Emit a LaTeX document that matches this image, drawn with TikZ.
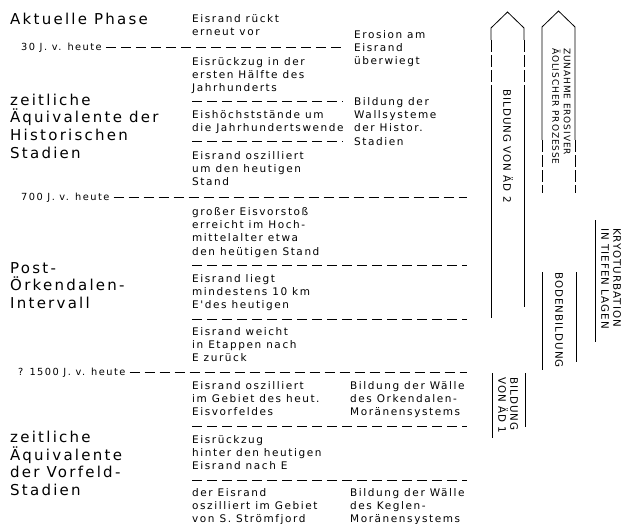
\documentclass[tikz,border=0pt]{standalone}
\usepackage{fontspec}
\newfontfamily\plotfont[LetterSpace=15]{DejaVu Sans}
\newfontfamily\capsfont[LetterSpace=10]{DejaVu Sans}

\tikzset{
  phase/.style={font=\plotfont\fontsize{15}{17.6}\selectfont, align=left, anchor=north west, inner sep=0pt},
  event/.style={font=\plotfont\fontsize{10.5}{13.3}\selectfont, align=left, anchor=north west, inner sep=0pt},
  age/.style={font=\plotfont\fontsize{9.8}{12}\selectfont, anchor=base west, inner sep=0pt},
  sep/.style={line width=0.8pt, dash pattern=on 10pt off 5pt},
  band/.style={line width=0.8pt},
  bandgap/.style={line width=0.8pt, dash pattern=on 12pt off 3pt},
  vlabel/.style={font=\capsfont\fontsize{10.3}{12}\selectfont, rotate=-90, align=left, inner sep=0pt}
}

\begin{document}
\begin{tikzpicture}[x=1pt, y=-1pt]
\useasboundingbox (0,0) rectangle (629,524);

        % Phases
        \node[phase] (phaseA) at (10,12.5) {Aktuelle Phase};
        \node[phase] (phaseH) at (10,93.8) {zeitliche\\Äquivalente der\\Historischen\\Stadien};
        \node[phase] (phaseP) at (10,262.2) {Post-\\Örkendalen-\\Intervall};
        \node[phase] (phaseV) at (10,430.8) {zeitliche\\Äquivalente\\der Vorfeld-\\Stadien};

        % Ages
        \node[age] (age30) at (21,50.5) {30 J. v. heute};
        \node[age] (age700) at (21,200.5) {700 J. v. heute};
        \node[age] (age1500) at (18,375.5) {? 1500 J. v. heute};
        \coordinate (end30) at (343,47);
        \coordinate (end700) at (467,197);
        \coordinate (end1500) at (467,372);
        \draw[sep] ([xshift=4pt]age30.east) -- (age30.east -| end30);
        \draw[sep] ([xshift=4pt]age700.east) -- (age700.east -| end700);
        \draw[sep] ([xshift=4pt]age1500.east) -- (age1500.east -| end1500);

        % Separators inside the phases
        \foreach \y/\xe [count=\i] in {101/343, 141/343, 265/467, 319/467, 426/467, 480/467} {
            \coordinate (sepL\i) at (192,\y);
            \coordinate (sepR\i) at (\xe,\y);
            \draw[sep] (sepL\i) -- (sepR\i);
        }

        % Ice margin
        \node[event] (ev1) at (192,14) {Eisrand rückt\\erneut vor};
        \node[event] (ev2) at (192,57) {Eisrückzug in der\\ersten Hälfte des\\Jahrhunderts};
        \node[event] (ev3) at (192,110) {Eishöchststände um\\die Jahrhundertswende};
        \node[event] (ev4) at (192,151) {Eisrand oszilliert\\um den heutigen\\Stand};
        \node[event] (ev5) at (192,207) {großer Eisvorstoß\\erreicht im Hoch-\\mittelalter etwa\\den heütigen Stand};
        \node[event] (ev6) at (192,274) {Eisrand liegt\\mindestens 10 km\\E'des heutigen};
        \node[event] (ev7) at (192,327) {Eisrand weicht\\in Etappen nach\\E zurück};
        \node[event] (ev8) at (192,381) {Eisrand oszilliert\\im Gebiet des heut.\\Eisvorfeldes};
        \node[event] (ev9) at (192,435) {Eisrückzug\\hinter den heutigen\\Eisrand nach E};
        \node[event] (ev10) at (192,488) {der Eisrand\\oszilliert im Gebiet\\von S. Strömfjord};

        % Forms
        \node[event] (res1) at (354,30) {Erosion am\\Eisrand\\überwiegt};
        \node[event] (res2) at (354,97) {Bildung der\\Wallsysteme\\der Histor.\\Stadien};
        \node[event] (res3) at (350,381) {Bildung der Wälle\\des Orkendalen-\\Moränensystems};
        \node[event] (res4) at (350,488) {Bildung der Wälle\\des Keglen-\\Moränensystems};

        % Processes
        \draw[band] (491,40) -- (491,28) -- (507.5,12) -- (524,28) -- (524,40);
        \draw[bandgap] (491,40) -- (491,95);
        \draw[bandgap] (524,40) -- (524,95);
        \draw[band] (491,95) -- (491,318);
        \draw[band] (524,95) -- (524,307);
        \node[vlabel] (ad2) at (508,146) {BILDUNG VON ÄD 2};

        \draw[band] (542,140) -- (542,27) -- (558.5,11) -- (575,27) -- (575,140);
        \draw[bandgap] (542,140) -- (542,193);
        \draw[bandgap] (575,140) -- (575,193);
        \node[vlabel, font=\capsfont\fontsize{9}{11.5}\selectfont, anchor=west] (aeol) at (561.5,48) {ZUNAHME EROSIVER\\ÄOLISCHER PROZESSE};

        \draw[band] (595,220) -- (595,342);
        \node[vlabel, anchor=west] (kryo) at (611,228) {KRYOTURBATION\\IN TIEFEN LAGEN};

        \draw[band] (542,272) -- (542,370);
        \draw[band] (576,272) -- (576,362);
        \node[vlabel] (boden) at (559,320) {BODENBILDUNG};

        \draw[band] (492,373) -- (492,438);
        \draw[band] (525,373) -- (525,427);
        \node[vlabel, anchor=west] (ad1) at (508,377) {BILDUNG\\VON ÄD 1};

\end{tikzpicture}
\end{document}
